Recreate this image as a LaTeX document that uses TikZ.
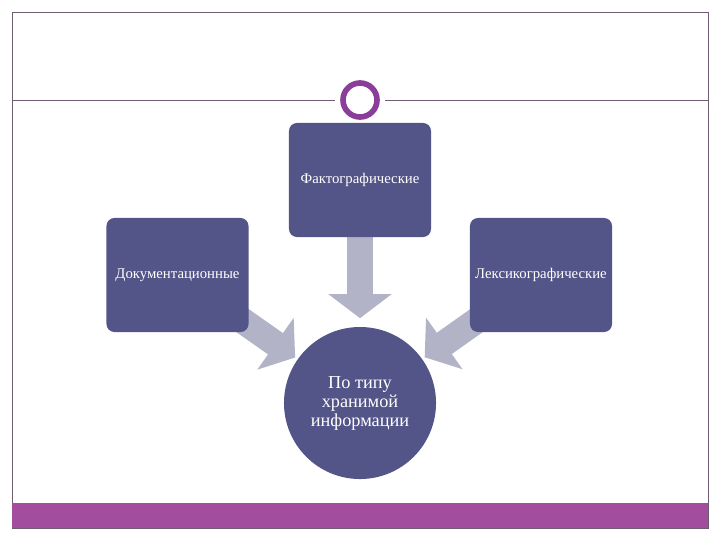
\documentclass[tikz,border=0pt]{standalone}
\usepackage{fontspec}
\setmainfont{Liberation Serif}
\usetikzlibrary{arrows.meta,backgrounds}

\definecolor{boxblue}{HTML}{535488}
\definecolor{arrowgray}{HTML}{B3B3C8}
\definecolor{framegray}{HTML}{6E5C70}
\definecolor{barpurple}{HTML}{A24D9E}
\definecolor{ringpurple}{HTML}{8A3E9A}

\tikzset{
  kindbox/.style={fill=boxblue, rounded corners=0.2cm, minimum width=3.55cm,
    minimum height=2.85cm, inner sep=0pt, text=white,
    font=\fontsize{10.5}{12}\selectfont},
  fatarrow/.style={arrowgray, line width=0.65cm,
    -{Triangle[length=0.6cm,width=1.55cm]}},
}

\begin{document}
\begin{tikzpicture}[x=0.025cm, y=-0.025cm]
  \useasboundingbox (0,0) rectangle (720,540);

  % frame and rule
  \draw[framegray, line width=0.6pt] (12,12) rectangle (708,528);
  \draw[framegray, line width=0.6pt] (12,100) -- (708,100);
  \fill[white] (360,100) circle (25);
  \node (ring) [circle, draw=ringpurple, line width=4pt, fill=white,
    minimum size=0.85cm] at (360,100) {};

  % nodes
  \node (fact) [kindbox] at (360,180) {Фактографические};
  \node (doc) [kindbox] at (177.5,275) {Документационные};
  \node (lex) [kindbox] at (541,275) {Лексикографические};
  \node (info) [circle, fill=boxblue, minimum size=3.8cm, inner sep=0pt,
    text=white, align=center, font=\fontsize{13}{13.5}\selectfont]
    at (360,403) {По типу\\хранимой\\информации};

  % arrows, behind the boxes
  \begin{pgfonlayer}{background}
    \draw[fatarrow, shorten >=2.12cm] (fact.center) -- (info.center);
    \draw[fatarrow, shorten >=1.98cm] (doc.center) -- (info.center);
    \draw[fatarrow, shorten >=1.98cm] (lex.center) -- (info.center);
  \end{pgfonlayer}

  % bottom bar
  \fill[barpurple] (12,503) rectangle (708,528);
\end{tikzpicture}
\end{document}
